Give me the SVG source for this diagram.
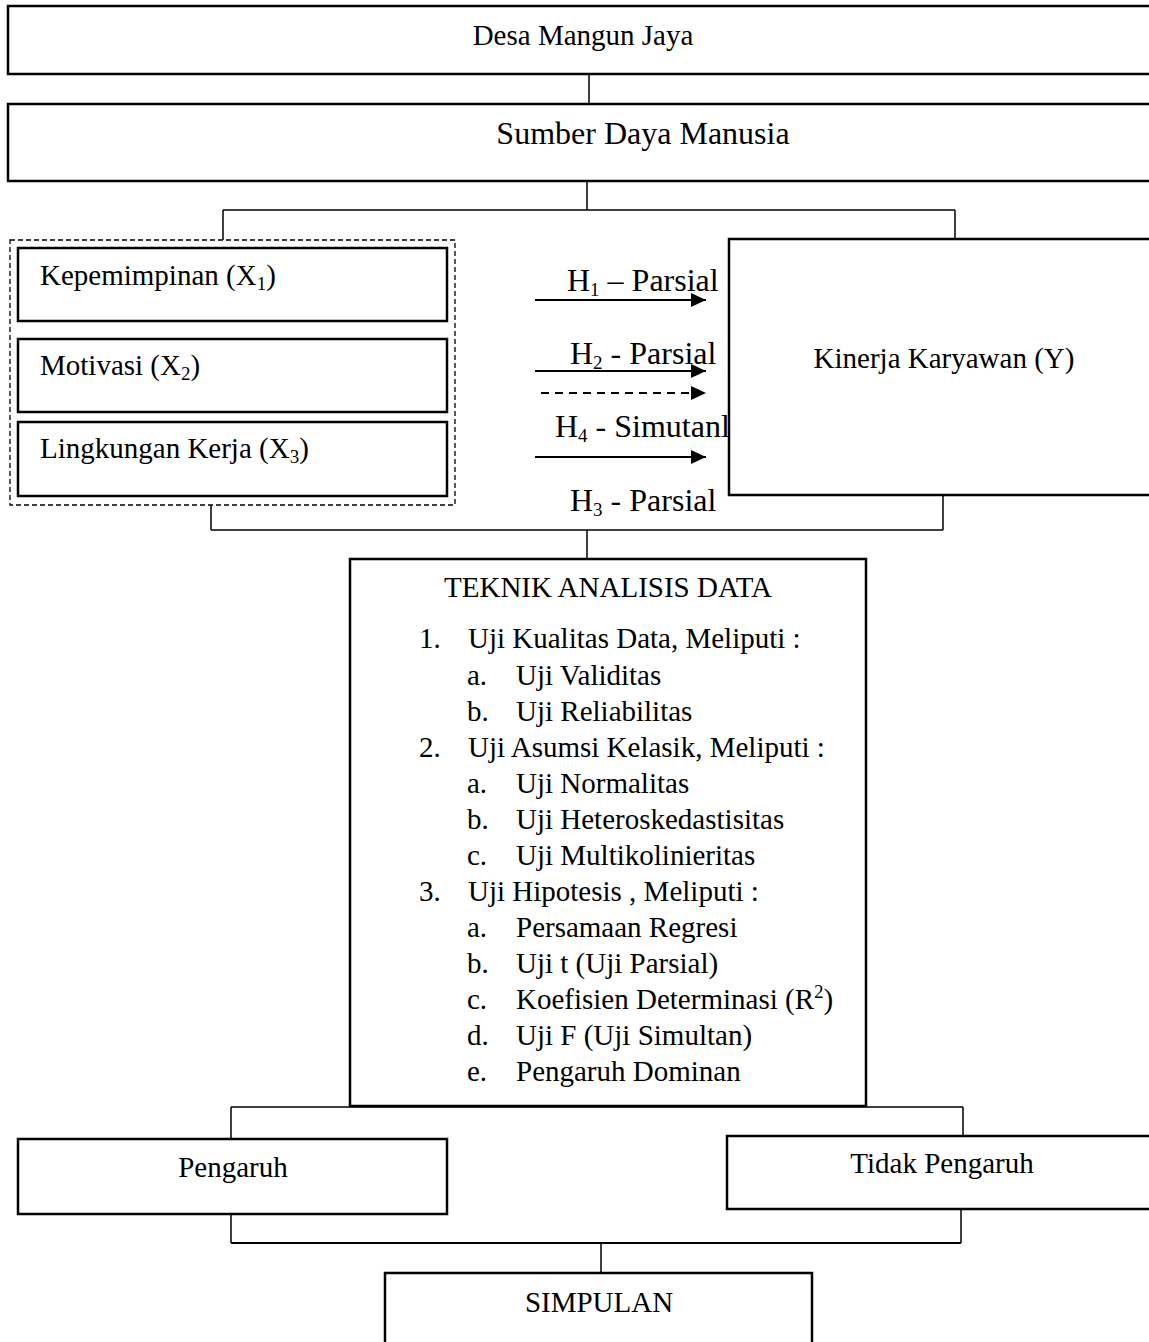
<svg xmlns="http://www.w3.org/2000/svg" width="1149" height="1342" viewBox="0 0 1149 1342">
<style>
  text { font-family: "Liberation Serif", "Times New Roman", serif; font-size: 29px; fill: #000; }
  .big { font-size: 32px; }
  .box { fill: #fff; stroke: #000; stroke-width: 2.5; }
  .con { fill: none; stroke: #000; stroke-width: 1.5; }
  .arr { fill: none; stroke: #000; stroke-width: 2.2; }
  .sub { font-size: 19px; }
</style>
<defs>
  <marker id="ah" markerUnits="userSpaceOnUse" markerWidth="16" markerHeight="16" refX="15" refY="7" orient="auto">
    <path d="M0,0 L15,7 L0,14 Z" fill="#000"/>
  </marker>
</defs>

<g id="connectors">
  <path class="con" d="M589,74 V103"/>
  <path class="con" d="M587,181 V210 M223,210 H955 M223,210 V240 M955,210 V239"/>
  <path class="con" d="M211,505 V530 M211,530 H943 M943,495 V530 M587,530 V559"/>
  <path class="con" d="M231,1107 H963 M231,1107 V1139 M963,1107 V1136"/>
  <path class="con" d="M231,1214 V1243 M961,1209 V1243 M601,1243 V1273"/>
  <path d="M231,1243 H961" stroke="#000" stroke-width="2.2"/>
  <path class="arr" d="M535,300 H706" marker-end="url(#ah)"/>
  <path class="arr" d="M535,371 H706" marker-end="url(#ah)"/>
  <path class="arr" d="M541,393 H706" stroke-dasharray="8 6" marker-end="url(#ah)"/>
  <path class="arr" d="M535,457 H706" marker-end="url(#ah)"/>
</g>

<g id="desa">
  <rect class="box" x="8" y="6" width="1160" height="68"/>
  <text x="583" y="45" text-anchor="middle">Desa Mangun Jaya</text>
</g>

<g id="sdm">
  <rect class="box" x="8" y="104" width="1160" height="77"/>
  <text class="big" x="643" y="144" text-anchor="middle">Sumber Daya Manusia</text>
</g>

<g id="variabel-x">
  <rect x="10" y="240" width="445" height="265" fill="none" stroke="#000" stroke-width="1.3" stroke-dasharray="5 3"/>
</g>

<g id="x1">
  <rect class="box" x="18" y="248" width="429" height="73"/>
  <text x="40" y="285">Kepemimpinan (X<tspan class="sub" dy="5">1</tspan><tspan dy="-5">)</tspan></text>
</g>

<g id="x2">
  <rect class="box" x="18" y="339" width="429" height="73"/>
  <text x="40" y="375">Motivasi (X<tspan class="sub" dy="5">2</tspan><tspan dy="-5">)</tspan></text>
</g>

<g id="x3">
  <rect class="box" x="18" y="422" width="429" height="74"/>
  <text x="40" y="458">Lingkungan Kerja (X<tspan class="sub" dy="5">3</tspan><tspan dy="-5">)</tspan></text>
</g>

<g id="labels">
  <text class="big" x="567" y="291">H<tspan class="sub" dy="5">1</tspan><tspan dy="-5"> – Parsial</tspan></text>
  <text class="big" x="570" y="364">H<tspan class="sub" dy="5">2</tspan><tspan dy="-5"> - Parsial</tspan></text>
  <text class="big" x="555" y="437">H<tspan class="sub" dy="5">4</tspan><tspan dy="-5"> - Simutanl</tspan></text>
  <text class="big" x="570" y="511">H<tspan class="sub" dy="5">3</tspan><tspan dy="-5"> - Parsial</tspan></text>
</g>

<g id="kinerja">
  <rect class="box" x="729" y="239" width="440" height="256"/>
  <text x="944" y="368" text-anchor="middle">Kinerja Karyawan (Y)</text>
</g>

<g id="teknik">
  <rect class="box" x="350" y="559" width="516" height="547"/>
  <text x="608" y="597" text-anchor="middle">TEKNIK ANALISIS DATA</text>
  <text x="419" y="648">1.</text><text x="468" y="648">Uji Kualitas Data, Meliputi :</text>
  <text x="467" y="685">a.</text><text x="516" y="685">Uji Validitas</text>
  <text x="467" y="721">b.</text><text x="516" y="721">Uji Reliabilitas</text>
  <text x="419" y="757">2.</text><text x="468" y="757">Uji Asumsi Kelasik, Meliputi :</text>
  <text x="467" y="793">a.</text><text x="516" y="793">Uji Normalitas</text>
  <text x="467" y="829">b.</text><text x="516" y="829">Uji Heteroskedastisitas</text>
  <text x="467" y="865">c.</text><text x="516" y="865">Uji Multikolinieritas</text>
  <text x="419" y="901">3.</text><text x="468" y="901">Uji Hipotesis , Meliputi :</text>
  <text x="467" y="937">a.</text><text x="516" y="937">Persamaan Regresi</text>
  <text x="467" y="973">b.</text><text x="516" y="973">Uji t (Uji Parsial)</text>
  <text x="467" y="1009">c.</text><text x="516" y="1009">Koefisien Determinasi (R<tspan class="sub" dy="-11">2</tspan><tspan dy="11">)</tspan></text>
  <text x="467" y="1045">d.</text><text x="516" y="1045">Uji F (Uji Simultan)</text>
  <text x="467" y="1081">e.</text><text x="516" y="1081">Pengaruh Dominan</text>
</g>

<g id="pengaruh">
  <rect class="box" x="18" y="1139" width="429" height="75"/>
  <text x="233" y="1177" text-anchor="middle">Pengaruh</text>
</g>

<g id="tidak-pengaruh">
  <rect class="box" x="727" y="1136" width="440" height="73"/>
  <text x="942" y="1173" text-anchor="middle">Tidak Pengaruh</text>
</g>

<g id="simpulan">
  <rect class="box" x="385" y="1273" width="427" height="90"/>
  <text x="599" y="1312" text-anchor="middle">SIMPULAN</text>
</g>
</svg>
